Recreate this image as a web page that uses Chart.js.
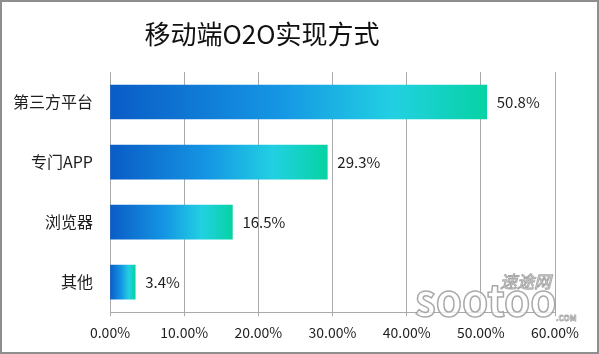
<!DOCTYPE html>
<html>
<head>
<meta charset="utf-8">
<script src="https://cdn.jsdelivr.net/npm/chart.js@4.4.1/dist/chart.umd.min.js"></script>
<style>
  html, body { margin: 0; padding: 0; background: #fff; }
  #wrap { width: 599px; height: 354px; position: relative; }
</style>
</head>
<body>
<div id="wrap"><canvas id="c"></canvas></div>
<script>
// ── Data ─────────────────────────────────────────────
const titleText  = '移动端O2O实现方式';
const categories = ['第三方平台', '专门APP', '浏览器', '其他'];
const shares     = [50.8, 29.3, 16.5, 3.4];
const axisTicks  = [0, 10, 20, 30, 40, 50, 60];

const FONT = "'Noto Sans CJK SC', 'Noto Sans', sans-serif";
const gridGray = '#aaaaaa';

// per-bar horizontal gradient, from the bar base to its end
function barGradient(ctx) {
  const chart = ctx.chart;
  if (!chart.chartArea) return '#1a9ae6';
  const xs = chart.scales.x;
  const x0 = xs.getPixelForValue(0);
  const x1 = xs.getPixelForValue(ctx.raw);
  const g = chart.ctx.createLinearGradient(x0, 0, x1, 0);
  g.addColorStop(0,    '#0a5cc6');
  g.addColorStop(0.45, '#1596e4');
  g.addColorStop(0.75, '#22d0e2');
  g.addColorStop(1,    '#06d3a4');
  return g;
}

// title, value labels after each bar, frame, watermark
const extras = {
  id: 'extras',
  afterDatasetsDraw(chart) {
    const { ctx } = chart;
    const meta = chart.getDatasetMeta(0);
    ctx.save();
    ctx.font = '15px ' + FONT;
    ctx.fillStyle = '#1e1e1e';
    ctx.textAlign = 'left';
    ctx.textBaseline = 'middle';
    meta.data.forEach((bar, i) => {
      ctx.fillText(shares[i].toFixed(1) + '%', bar.x + 10, bar.y);
    });
    ctx.restore();
  },
  afterDraw(chart) {
    const { ctx, width, height } = chart;
    ctx.save();
    // title (centred a little left of the canvas middle, like the original)
    ctx.font = '26px ' + FONT;
    ctx.fillStyle = '#111';
    ctx.textAlign = 'center';
    ctx.textBaseline = 'middle';
    ctx.fillText(titleText, 262, 34);
    // watermark
    ctx.textAlign = 'left';
    ctx.globalAlpha = 0.85;
    ctx.lineWidth = 1;
    ctx.strokeStyle = '#9a9a9a';
    ctx.fillStyle = 'rgba(255,255,255,0.9)';
    ctx.font = 'italic 17px ' + FONT;
    ctx.fillText('速途网', 500, 282);
    ctx.strokeText('速途网', 500, 282);
    ctx.font = 'bold 42px ' + FONT;
    ctx.lineWidth = 1.5;
    ctx.fillText('sootoo', 415, 300);
    ctx.strokeText('sootoo', 415, 300);
    ctx.font = 'bold 8px ' + FONT;
    ctx.lineWidth = 0.8;
    ctx.strokeText('.COM', 556, 318);
    // frame
    ctx.globalAlpha = 1;
    ctx.strokeStyle = '#8e8e8e';
    ctx.lineWidth = 2;
    ctx.strokeRect(1, 1, width - 2, height - 2);
    ctx.restore();
  }
};

new Chart(document.getElementById('c'), {
  type: 'bar',
  data: {
    labels: categories,
    datasets: [{
      data: shares,
      backgroundColor: barGradient,
      borderWidth: 0,
      barThickness: 34,
    }]
  },
  options: {
    indexAxis: 'y',
    responsive: true,
    maintainAspectRatio: false,
    animation: false,
    layout: { padding: { left: 0, right: 44, top: 72, bottom: 5 } },
    plugins: {
      legend: { display: false },
      tooltip: { enabled: false },
      title: { display: false },
    },
    scales: {
      x: {
        min: 0,
        max: 60,
        afterBuildTicks: (s) => { s.ticks = axisTicks.map(v => ({ value: v })); },
        grid: { color: gridGray, lineWidth: 1, tickLength: 4 },
        border: { color: gridGray, width: 1 },
        ticks: {
          color: '#1e1e1e',
          padding: 8,
          font: { family: FONT, size: 14 },
          callback: (v) => Number(v).toFixed(2) + '%',
        },
      },
      y: {
        afterFit: (s) => { s.width = 110; },
        grid: { display: false, drawTicks: false },
        border: { display: true, color: gridGray, width: 1 },
        ticks: {
          color: '#1e1e1e',
          padding: 17,
          font: { family: FONT, size: 16 },
        },
      },
    },
  },
  plugins: [extras],
});
</script>
</body>
</html>
